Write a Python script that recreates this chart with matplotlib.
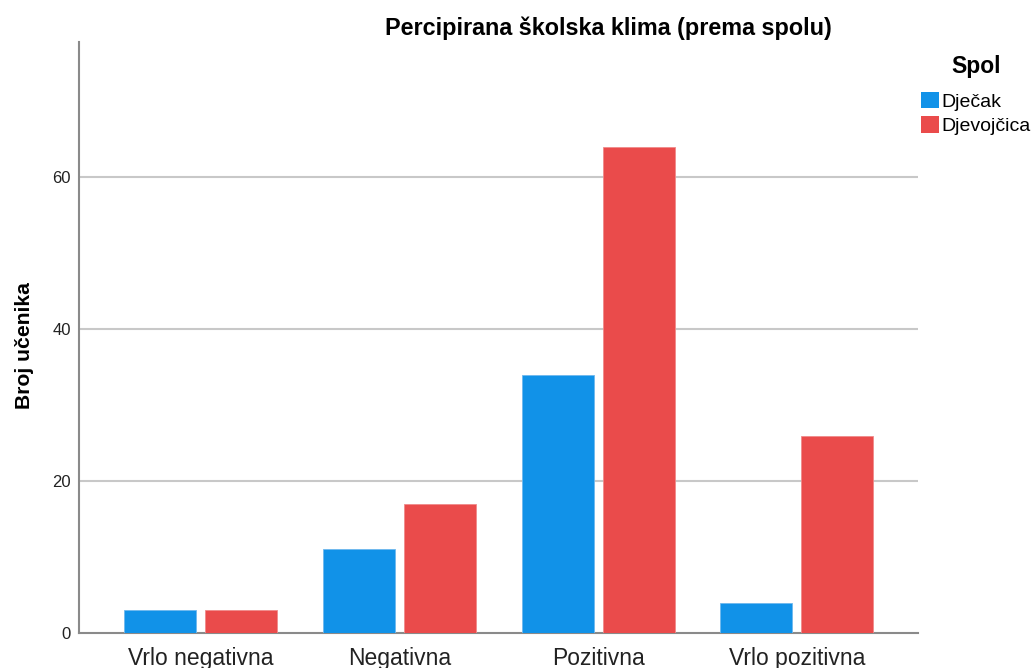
import numpy as np
import matplotlib
matplotlib.use('Agg')
import matplotlib.pyplot as plt
from matplotlib.patches import Patch

plt.rcParams['font.family'] = ['Liberation Sans', 'DejaVu Sans']

categories = ['Vrlo negativna', 'Negativna', 'Pozitivna', 'Vrlo pozitivna']
djecak = [3, 11, 34, 4]
djevojcica = [3, 17, 64, 26]
series_names = ['Dječak', 'Djevojčica']
colors = ['#1192E8', '#EA4B4B']

fig = plt.figure(figsize=(10.31, 6.68), dpi=100)
ax = fig.add_axes([0.0766, 0.0524, 0.8134, 0.8846])

x = np.arange(len(categories))
w = 0.362
off = 0.2035
ax.bar(x - off, djecak, w, color=colors[0], edgecolor='#6fb8ee', linewidth=0.6, zorder=3)
ax.bar(x + off, djevojcica, w, color=colors[1], edgecolor='#f08a8a', linewidth=0.6, zorder=3)

ax.set_xlim(-0.613, 3.608)
ax.set_ylim(0, 77.8)
ax.set_yticks([0, 20, 40, 60])
ax.set_xticks(x)
ax.set_xticklabels(categories, fontsize=16.5, color='#222222')
ax.tick_params(axis='both', length=0)
ax.tick_params(axis='y', labelsize=12, pad=6, colors='#222222')
ax.tick_params(axis='x', pad=10)

for y in [20, 40, 60]:
    ax.axhline(y, color='#c8c8c8', linewidth=1.5, zorder=1)

for s in ['top', 'right']:
    ax.spines[s].set_visible(False)
for s in ['left', 'bottom']:
    ax.spines[s].set_color('#8a8a8a')
    ax.spines[s].set_linewidth(1.5)

ax.set_ylabel('Broj učenika', fontsize=15.2, fontweight='bold')
ax.yaxis.set_label_coords(-0.0536, 0.487)

fig.text(0.5897, 0.958, 'Percipirana školska klima (prema spolu)',
         ha='center', va='center', fontsize=16.8, fontweight='bold')

handles = [Patch(facecolor=c, edgecolor='none') for c in colors]
leg = fig.legend(handles, series_names, title='Spol', loc='upper left',
                 bbox_to_anchor=(0.893, 0.918), frameon=False, fontsize=14,
                 title_fontproperties={'weight': 'bold', 'size': 16.5},
                 handlelength=0.93, handleheight=0.93, handletextpad=0.15,
                 labelspacing=0.3, borderpad=0, borderaxespad=0)
leg._legend_box.sep = 10

fig.savefig('out.png', dpi=100)
